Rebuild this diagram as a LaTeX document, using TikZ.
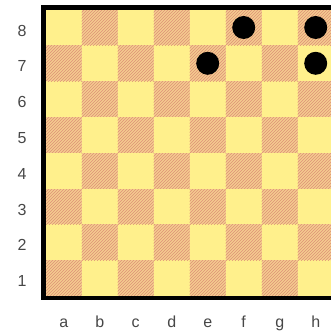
\documentclass[tikz,border=0pt]{standalone}
\usepackage{fontspec}
\setmainfont{Liberation Sans}
\usetikzlibrary{patterns}
\definecolor{lightsq}{HTML}{FFF08C}
\definecolor{darksq}{HTML}{F4CC8E}
\definecolor{hatch}{HTML}{DE9078}
\definecolor{labelgray}{HTML}{474747}

\begin{document}
\begin{tikzpicture}[
                x=1pt, y=1pt,
                light/.style={
                    fill=lightsq
                },
                dark/.style={
                    fill=darksq,
                    postaction={pattern=north east lines, pattern color=hatch}
                },
                piece/.style={
                    circle,
                    fill=black,
                    inner sep=0pt,
                    minimum size=23pt
                },
                lbl/.style={
                    text=labelgray,
                    font=\fontsize{16}{18}\selectfont
                }
            ]

                \useasboundingbox (0,0) rectangle (331,331);

                % squares, a1 is dark
                \foreach \c in {0,...,7}
                    \foreach \r in {0,...,7} {
                        \pgfmathtruncatemacro{\sqpar}{mod(\c+\r,2)}
                        \ifnum\sqpar=0
                            \path[dark] (45.7+\c*36,35+\r*35.8) rectangle ++(36,35.8);
                        \else
                            \path[light] (45.7+\c*36,35+\r*35.8) rectangle ++(36,35.8);
                        \fi
                    }

                % frame (right side is cut off)
                \draw[line width=4.6pt] (340,323.4) -- (43.4,323.4) -- (43.4,32.8) -- (340,32.8);

                % rank and file labels
                \foreach \r in {1,...,8}
                    \node[lbl] (rank\r) at (22,35+\r*35.8-17.9-3) {\r};
                \foreach \f [count=\c from 0] in {a,b,c,d,e,f,g,h}
                    \node[lbl, anchor=base] (file\f) at (45.7+\c*36+18,4) {\f};

                % pieces
                \node[piece] (f8) at (243.7,303.5) {};
                \node[piece] (h8) at (315.7,303.5) {};
                \node[piece] (e7) at (207.7,267.7) {};
                \node[piece] (h7) at (315.7,267.7) {};

            \end{tikzpicture}
\end{document}
